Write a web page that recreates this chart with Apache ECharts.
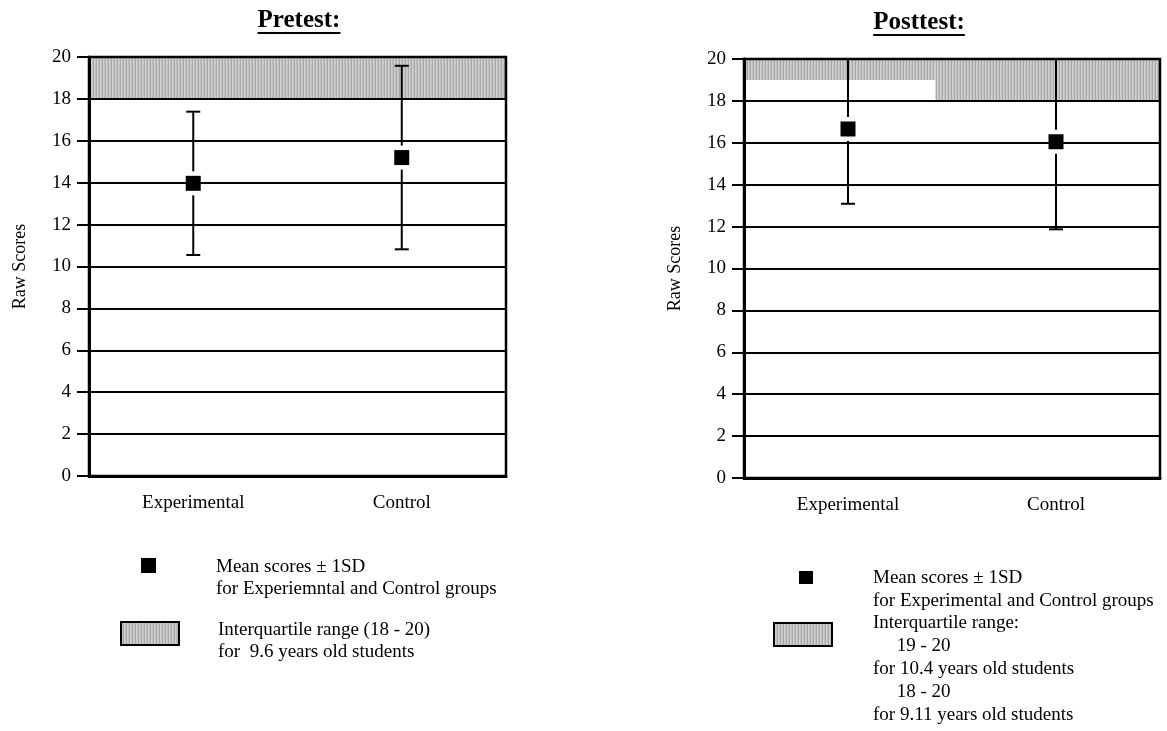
<!DOCTYPE html>
<html>
<head>
<meta charset="utf-8">
<script src="https://cdn.jsdelivr.net/npm/echarts@6/dist/echarts.min.js"></script>
<style>
html,body{margin:0;padding:0;background:#fff;}
#chart{width:1167px;height:731px;}
</style>
</head>
<body>
<div id="chart"></div>
<script>
// ---------------- data ----------------
const categories = ['Experimental', 'Control'];
const yMin = 0, yMax = 20, yInterval = 2;

const pretestTitle = 'Pretest:';
const posttestTitle = 'Posttest:';
const yAxisName = 'Raw Scores';

const pretestMeans = [13.97, 15.2];
const pretestSD = [3.42, 4.38];
const posttestMeans = [16.66, 16.05];
const posttestSD = [3.57, 4.18];

// interquartile bands: [fromPct, toPct, low, high]
const pretestBands = [[0, 100, 18, 20]];
const posttestBands = [[0, 46, 19, 20], [46, 100, 18, 20]];

const pretestLegend1 = ['Mean scores \u00B1 1SD', 'for Experiemntal and Control groups'];
const pretestLegend2 = ['Interquartile range (18 - 20)', 'for  9.6 years old students'];
const posttestLegend1 = ['Mean scores \u00B1 1SD', 'for Experimental and Control groups'];
const posttestLegend2 = ['Interquartile range:', '     19 - 20', 'for 10.4 years old students', '     18 - 20', 'for 9.11 years old students'];

// ---------------- helpers ----------------
const FONT = '"Liberation Serif", "Times New Roman", serif';

function makePattern() {
  const c = document.createElement('canvas');
  c.width = 3; c.height = 4;
  const ctx = c.getContext('2d');
  ['#a8a8a8', '#d0d0d0', '#c2c2c2'].forEach((col, i) => {
    ctx.fillStyle = col; ctx.fillRect(i, 0, 1, 4);
  });
  return c;
}
const pattern = { image: makePattern(), repeat: 'repeat' };

function textWidth(txt, font) {
  const c = document.createElement('canvas').getContext('2d');
  c.font = font;
  return c.measureText(txt).width;
}

function bandRender(params, api) {
  const p0 = api.coord([api.value(0), api.value(3)]);
  const p1 = api.coord([api.value(1), api.value(2)]);
  return {
    type: 'rect',
    shape: { x: p0[0], y: p0[1], width: p1[0] - p0[0], height: p1[1] - p0[1] },
    style: { fill: pattern }
  };
}

function errRender(params, api) {
  const i = api.value(0), m = api.value(1), lo = api.value(2), hi = api.value(3);
  const pm = api.coord([i, m]), pl = api.coord([i, lo]), ph = api.coord([i, hi]);
  const gap = 12, cap = 7;
  const st = { stroke: '#000', lineWidth: 2 };
  return {
    type: 'group',
    children: [
      { type: 'line', shape: { x1: pm[0], y1: ph[1], x2: pm[0], y2: pm[1] - gap }, style: st },
      { type: 'line', shape: { x1: pm[0], y1: pm[1] + gap, x2: pm[0], y2: pl[1] }, style: st },
      { type: 'line', shape: { x1: pm[0] - cap, y1: ph[1], x2: pm[0] + cap, y2: ph[1] }, style: st },
      { type: 'line', shape: { x1: pm[0] - cap, y1: pl[1], x2: pm[0] + cap, y2: pl[1] }, style: st }
    ]
  };
}

function catAxis(gi) {
  return {
    type: 'category', gridIndex: gi, data: categories, boundaryGap: true, z: 3,
    axisLine: { lineStyle: { color: '#000', width: 3 } },
    axisTick: { alignWithLabel: true, length: 9, lineStyle: { color: '#000', width: 2 } },
    axisLabel: { color: '#000', fontFamily: FONT, fontSize: 19, margin: 18 },
    splitLine: { show: false }
  };
}
function hiddenAxis(gi) {
  return { type: 'value', gridIndex: gi, min: 0, max: 100, show: false };
}
function valAxis(gi) {
  return {
    type: 'value', gridIndex: gi, min: yMin, max: yMax, interval: yInterval, z: 3,
    name: yAxisName, nameLocation: 'middle', nameGap: 60,
    nameTextStyle: { color: '#000', fontFamily: FONT, fontSize: 18 },
    axisLine: { show: true, lineStyle: { color: '#000', width: 3 } },
    axisTick: { show: true, length: 12, lineStyle: { color: '#000', width: 2 } },
    axisLabel: { color: '#000', fontFamily: FONT, fontSize: 19, margin: 18 },
    splitLine: { show: true, lineStyle: { color: '#000', width: 2 } }
  };
}

function errData(means, sd) {
  return means.map((m, i) => [i, m, m - sd[i], m + sd[i]]);
}

function panelSeries(gi, means, sd, bands) {
  return [
    { type: 'custom', xAxisIndex: gi * 2 + 1, yAxisIndex: gi, data: bands, renderItem: bandRender,
      clip: true, silent: true, z: 2, encode: { x: [0, 1], y: [2, 3] } },
    { type: 'custom', xAxisIndex: gi * 2, yAxisIndex: gi, data: errData(means, sd), renderItem: errRender,
      clip: true, silent: true, z: 4, encode: { x: 0, y: [1, 2, 3] } },
    { type: 'scatter', xAxisIndex: gi * 2, yAxisIndex: gi, data: means, symbol: 'rect', symbolSize: 15,
      itemStyle: { color: '#000', opacity: 1 }, silent: true, z: 5 }
  ];
}

function titleGraphic(txt, cx, cy, uy) {
  const f = 'bold 25px ' + FONT;
  const w = textWidth(txt, f);
  return [
    { type: 'text', x: cx, y: cy, style: { text: txt, font: f, fill: '#000', align: 'center', verticalAlign: 'middle' } },
    { type: 'line', shape: { x1: cx - w / 2, y1: uy, x2: cx + w / 2, y2: uy }, style: { stroke: '#000', lineWidth: 2 } }
  ];
}

function legendText(lines, x, y0, step) {
  return lines.map((t, i) => ({
    type: 'text', x: x, y: y0 + i * step,
    style: { text: t, font: '19px ' + FONT, fill: '#000', align: 'left', verticalAlign: 'middle' }
  }));
}

const graphics = []
  .concat(titleGraphic(pretestTitle, 299, 21, 33))
  .concat(titleGraphic(posttestTitle, 919, 23, 35))
  // left legend
  .concat([{ type: 'rect', shape: { x: 141, y: 558, width: 15, height: 15 }, style: { fill: '#000' } }])
  .concat(legendText(pretestLegend1, 216, 567, 22))
  .concat([{ type: 'rect', shape: { x: 121, y: 622, width: 58, height: 23 }, style: { fill: pattern, stroke: '#000', lineWidth: 2 } }])
  .concat(legendText(pretestLegend2, 218, 630, 22))
  // right legend
  .concat([{ type: 'rect', shape: { x: 799, y: 571, width: 14, height: 13 }, style: { fill: '#000' } }])
  .concat(legendText(posttestLegend1, 873, 578, 23))
  .concat([{ type: 'rect', shape: { x: 774, y: 623, width: 58, height: 23 }, style: { fill: pattern, stroke: '#000', lineWidth: 2 } }])
  .concat(legendText(posttestLegend2, 873, 623, 23));

const option = {
  animation: false,
  backgroundColor: '#fff',
  grid: [
    { left: 89, top: 57, width: 417, height: 419, show: true, borderColor: '#000', borderWidth: 2.5,
      backgroundColor: 'transparent', z: 3, outerBoundsMode: 'none', containLabel: false },
    { left: 744, top: 59, width: 416, height: 419, show: true, borderColor: '#000', borderWidth: 2.5,
      backgroundColor: 'transparent', z: 3, outerBoundsMode: 'none', containLabel: false }
  ],
  xAxis: [catAxis(0), hiddenAxis(0), catAxis(1), hiddenAxis(1)],
  yAxis: [valAxis(0), valAxis(1)],
  series: [].concat(
    panelSeries(0, pretestMeans, pretestSD, pretestBands),
    panelSeries(1, posttestMeans, posttestSD, posttestBands)
  ),
  graphic: graphics
};

const chart = echarts.init(document.getElementById('chart'), null, { renderer: 'canvas' });
chart.setOption(option);
</script>
</body>
</html>
